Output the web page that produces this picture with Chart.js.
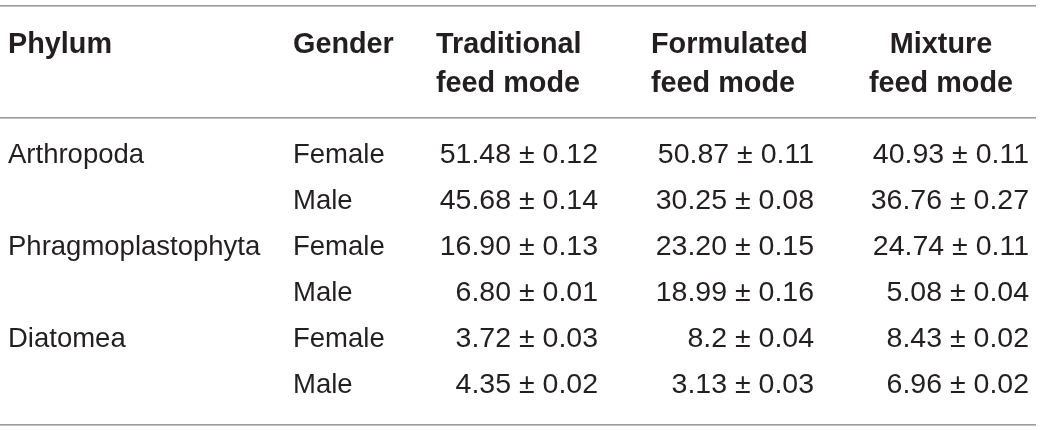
<!DOCTYPE html>
<html><head><meta charset="utf-8">
<script src="https://cdn.jsdelivr.net/npm/chart.js@4.4.1/dist/chart.umd.min.js"></script>
<style>html,body{margin:0;padding:0;background:#fff;}canvas{display:block;}</style>
</head><body>
<div style="width:1040px;height:430px"><canvas id="c" width="1040" height="430"></canvas></div>
<script>
// ---- data ----
const headers = [['Phylum'], ['Gender'], ['Traditional', 'feed mode'], ['Formulated', 'feed mode'], ['Mixture', 'feed mode']];
const phyla = ['Arthropoda', '', 'Phragmoplastophyta', '', 'Diatomea', ''];
const genders = ['Female', 'Male', 'Female', 'Male', 'Female', 'Male'];
const traditional = ['51.48', '45.68', '16.90', '6.80', '3.72', '4.35'];
const traditionalSE = ['0.12', '0.14', '0.13', '0.01', '0.03', '0.02'];
const formulated = ['50.87', '30.25', '23.20', '18.99', '8.2', '3.13'];
const formulatedSE = ['0.11', '0.08', '0.15', '0.16', '0.04', '0.03'];
const mixture = ['40.93', '36.76', '24.74', '5.08', '8.43', '6.96'];
const mixtureSE = ['0.11', '0.27', '0.11', '0.04', '0.02', '0.02'];

// ---- layout (positions / styles) ----
const COL_X = [8, 293, 598, 814, 1029];
const COL_ALIGN = ['left', 'left', 'right', 'right', 'right'];
const COL_FONT = [27.5, 27.5, 28.5, 28.5, 28.5];
const HEAD_X = [8, 293, 436, 651, 941];
const HEAD_ALIGN = ['left', 'left', 'left', 'left', 'center'];
const FONT_FAMILY = "'Liberation Sans', Arial, Helvetica, sans-serif";
const TEXT_COLOR = '#231f20';
const RULE_COLOR = '#9b9b9b';

const pm = (v, se) => v + ' \u00B1 ' + se;
const columnTexts = [
  phyla,
  genders,
  traditional.map((v, i) => pm(v, traditionalSE[i])),
  formulated.map((v, i) => pm(v, formulatedSE[i])),
  mixture.map((v, i) => pm(v, mixtureSE[i]))
];
const rowIdx = genders.map((_, i) => i);

const datasets = columnTexts.map((texts, c) => ({
  label: headers[c].join(' '),
  data: rowIdx.map(r => ({ x: COL_X[c], y: r })),
  texts: texts,
  align: COL_ALIGN[c],
  fontSize: COL_FONT[c],
  pointRadius: 0,
  pointHoverRadius: 0,
  showLine: false
}));

const tablePlugin = {
  id: 'tableText',
  afterDatasetsDraw(chart) {
    const ctx = chart.ctx;
    const area = chart.chartArea;
    const xs = chart.scales.x;
    ctx.save();
    // rules
    ctx.fillStyle = RULE_COLOR;
    const ruleW = xs.getPixelForValue(1036) - xs.getPixelForValue(0);
    [area.top - 125, area.top - 13.5, area.bottom + 16.5].forEach(y => {
      ctx.fillRect(xs.getPixelForValue(0), Math.round(y), ruleW, 1.6);
    });
    // headers
    ctx.fillStyle = TEXT_COLOR;
    ctx.textBaseline = 'alphabetic';
    ctx.font = 'bold 28.8px ' + FONT_FAMILY;
    headers.forEach((lines, c) => {
      ctx.textAlign = HEAD_ALIGN[c];
      const x = xs.getPixelForValue(HEAD_X[c]);
      lines.forEach((t, j) => ctx.fillText(t, x, area.top - 77.5 + j * 39));
    });
    // cells
    chart.data.datasets.forEach((ds, di) => {
      const meta = chart.getDatasetMeta(di);
      ctx.font = ds.fontSize + 'px ' + FONT_FAMILY;
      ctx.textAlign = ds.align;
      meta.data.forEach((el, i) => {
        ctx.fillText(ds.texts[i], el.x, el.y + 9.5);
      });
    });
    ctx.restore();
  }
};

new Chart(document.getElementById('c'), {
  type: 'scatter',
  data: { datasets },
  options: {
    responsive: false,
    animation: false,
    events: [],
    layout: { padding: { top: 130, bottom: 23, left: 0, right: 0 } },
    plugins: { legend: { display: false }, tooltip: { enabled: false } },
    scales: {
      x: { type: 'linear', min: 0, max: 1040, display: false },
      y: { type: 'linear', min: -0.5, max: 5.5, reverse: true, display: false }
    }
  },
  plugins: [tablePlugin]
});
</script>
</body></html>
